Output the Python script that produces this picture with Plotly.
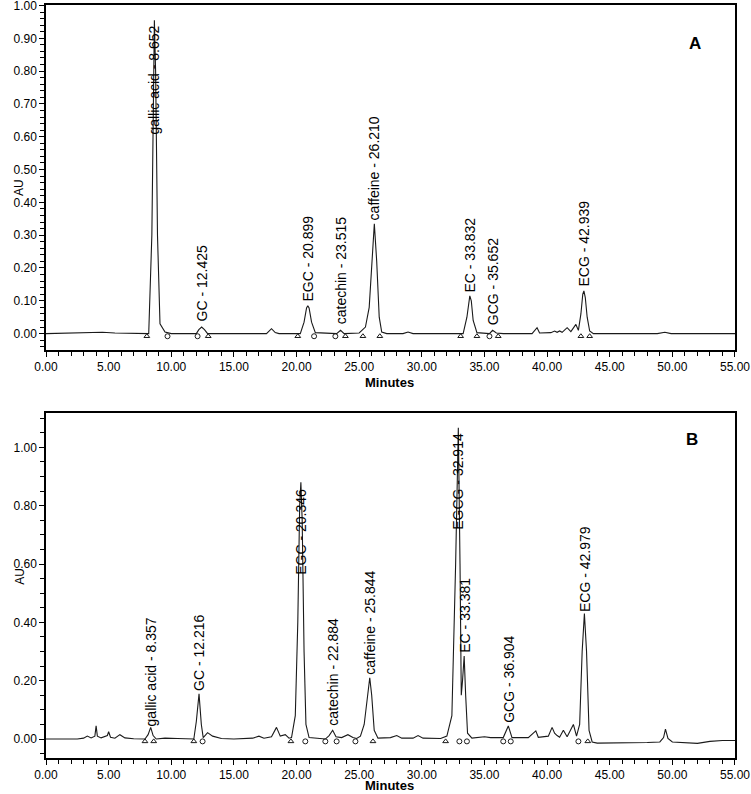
import plotly.graph_objects as go

# ---------------- Panel A : chromatogram trace (minutes, AU) ----------------
a_time = [0.0, 3.5, 4.5, 5.5, 7.8, 8.2, 8.45, 8.58, 8.652, 8.75, 8.9, 9.1, 9.5, 10.0,
          12.0, 12.2, 12.425, 12.65, 12.9, 17.6, 18.0, 18.3, 18.6,
          20.3, 20.6, 20.8, 20.899, 21.0, 21.2, 21.5, 23.2, 23.515, 23.8,
          25.0, 25.5, 25.8, 26.0, 26.21, 26.4, 26.6, 26.8, 27.2, 28.5, 28.9, 29.3,
          31.0, 31.5, 32.0, 33.3, 33.6, 33.75, 33.832, 33.95, 34.1, 34.4, 35.2,
          35.4, 35.652, 35.95, 36.5, 38.8, 39.2, 39.4, 40.3, 40.6, 40.8, 41.0, 41.2,
          41.6, 41.9, 42.3, 42.5, 42.7, 42.85, 42.939, 43.05, 43.2, 43.4, 43.7,
          48.8, 49.4, 49.9, 55.0]
a_au = [0.0, 0.002, 0.004, 0.002, 0.0, 0.0, 0.3, 0.8, 0.955, 0.8, 0.3, 0.03, 0.005, 0.0,
        0.0, 0.012, 0.02, 0.012, 0.0, 0.0, 0.015, 0.003, 0.0,
        0.0, 0.035, 0.078, 0.085, 0.078, 0.035, 0.003, 0.0, 0.01, 0.0,
        0.002, 0.02, 0.08, 0.22, 0.335, 0.22, 0.05, 0.005, 0.0, 0.0, 0.005, 0.0,
        0.0, 0.002, 0.0, 0.0, 0.05, 0.105, 0.115, 0.1, 0.04, 0.003, 0.0,
        0.0, 0.01, 0.002, 0.0, 0.0, 0.018, 0.002, 0.003, 0.008, 0.004, 0.008, 0.004,
        0.018, 0.006, 0.028, 0.01, 0.06, 0.12, 0.13, 0.11, 0.05, 0.008, 0.0,
        0.0, 0.004, 0.0, 0.0]

a_peak_names = ["gallic acid", "GC", "EGC", "catechin", "caffeine", "EC", "GCG", "ECG"]
a_peak_rt = [8.652, 12.425, 20.899, 23.515, 26.210, 33.832, 35.652, 42.939]
a_label_base = [0.60, 0.03, 0.091, 0.021, 0.34, 0.12, 0.02, 0.137]
a_tri_t = [8.05, 12.95, 20.1, 23.9, 25.3, 26.65, 33.1, 34.4, 36.1, 42.7, 43.4]
a_circ_t = [9.7, 12.1, 21.4, 23.1, 35.4]

# ---------------- Panel B : chromatogram trace (minutes, AU) ----------------
b_time = [0.0, 2.5, 3.0, 3.3, 3.6, 3.9, 4.0, 4.1, 4.4, 4.9, 5.0, 5.15, 5.5, 5.9, 6.3, 7.0,
          7.9, 8.15, 8.357, 8.55, 8.8, 9.5, 10.5, 11.8, 12.0, 12.216, 12.4, 12.55, 12.9,
          13.3, 14.0, 15.0, 16.5, 17.0, 17.4, 18.0, 18.4, 18.7, 19.1, 19.4,
          19.6, 19.9, 20.1, 20.25, 20.346, 20.45, 20.6, 20.75, 21.0, 22.3,
          22.6, 22.884, 23.15, 23.6, 24.1, 24.5, 24.8, 25.1,
          25.4, 25.65, 25.844, 26.0, 26.2, 26.5, 27.0, 27.5, 28.0, 28.4, 29.3, 29.7, 30.1,
          31.5, 32.0, 32.4, 32.7, 32.914, 33.05, 33.15, 33.25, 33.381, 33.5, 33.65, 34.0,
          35.0, 35.5, 36.5, 36.904, 37.2, 38.5, 39.1, 39.3, 40.1, 40.4, 40.6, 40.8, 41.0,
          41.3, 41.6, 42.1, 42.35, 42.6, 42.8, 42.979, 43.15, 43.35, 43.6, 44.0, 46.0,
          48.0, 49.0, 49.3, 49.45, 49.65, 50.0, 52.0, 53.0, 54.0, 55.0]
b_au = [0.0, 0.0, 0.003, 0.01, 0.004, 0.01, 0.045, 0.01, 0.004, 0.012, 0.025, 0.006, 0.003, 0.015, 0.004, 0.001,
        0.0, 0.015, 0.04, 0.012, 0.0, 0.003, 0.002, 0.0, 0.06, 0.155, 0.05, 0.005, 0.022,
        0.01, 0.002, 0.0, 0.003, 0.01, 0.003, 0.008, 0.04, 0.01, 0.015, 0.003,
        0.005, 0.08, 0.4, 0.8, 0.88, 0.75, 0.3, 0.05, 0.005, 0.0,
        0.012, 0.03, 0.008, 0.005, 0.015, 0.005, 0.002, 0.01,
        0.05, 0.15, 0.21, 0.15, 0.03, 0.003, 0.004, 0.005, 0.012, 0.003, 0.003, 0.012, 0.003,
        0.002, 0.01, 0.08, 0.6, 1.067, 0.6, 0.15, 0.2, 0.285, 0.15, 0.02, 0.003,
        0.008, 0.005, 0.005, 0.045, 0.005, 0.005, 0.028, 0.006, 0.01, 0.04, 0.02, 0.012, 0.006,
        0.03, 0.008, 0.05, 0.01, 0.05, 0.3, 0.43, 0.3, 0.03, -0.01, -0.014, -0.014,
        -0.012, -0.01, 0.005, 0.034, 0.002, -0.01, -0.015, -0.008, -0.005, -0.005]

b_peak_names = ["gallic acid", "GC", "EGC", "catechin", "caffeine", "EGCG", "EC", "GCG", "ECG"]
b_peak_rt = [8.357, 12.216, 20.346, 22.884, 25.844, 32.914, 33.381, 36.904, 42.979]
b_label_base = [0.037, 0.158, 0.556, 0.038, 0.213, 0.71, 0.288, 0.048, 0.43]
b_tri_t = [7.9, 8.6, 11.8, 19.55, 26.1, 31.9, 43.25]
b_circ_t = [12.5, 20.7, 22.3, 23.2, 24.7, 33.0, 33.6, 36.5, 37.1, 42.5]

A_MARK_Y = -0.008
B_MARK_Y = -0.008

FONT = "Liberation Sans, Arial, sans-serif"
LINE = "#1a1a1a"

fig = go.Figure()

def add_panel(xa, ya, t, au, tri, circ, mark_y):
    fig.add_trace(go.Scatter(x=t, y=au, mode="lines", line=dict(color=LINE, width=1.1),
                             xaxis=xa, yaxis=ya, showlegend=False, hoverinfo="skip"))
    fig.add_trace(go.Scatter(x=tri, y=[mark_y] * len(tri), mode="markers",
                             marker=dict(symbol="triangle-up-open", size=5, color=LINE,
                                         line=dict(width=1, color=LINE)),
                             xaxis=xa, yaxis=ya, showlegend=False, hoverinfo="skip"))
    fig.add_trace(go.Scatter(x=circ, y=[mark_y] * len(circ), mode="markers",
                             marker=dict(symbol="circle-open", size=5, color=LINE,
                                         line=dict(width=1, color=LINE)),
                             xaxis=xa, yaxis=ya, showlegend=False, hoverinfo="skip"))

add_panel("x", "y", a_time, a_au, a_tri_t, a_circ_t, A_MARK_Y)
add_panel("x2", "y2", b_time, b_au, b_tri_t, b_circ_t, B_MARK_Y)

annotations = []
for name, rt, base in zip(a_peak_names, a_peak_rt, a_label_base):
    annotations.append(dict(x=rt, y=base, xref="x", yref="y", text=f"{name} - {rt:.3f}",
                            textangle=-90, xanchor="center", yanchor="bottom", showarrow=False,
                            font=dict(family=FONT, size=14, color="black")))
for name, rt, base in zip(b_peak_names, b_peak_rt, b_label_base):
    annotations.append(dict(x=rt, y=base, xref="x2", yref="y2", text=f"{name} - {rt:.3f}",
                            textangle=-90, xanchor="center", yanchor="bottom", showarrow=False,
                            font=dict(family=FONT, size=14, color="black")))

# panel letters, axis titles
annotations += [
    dict(x=0.9535, y=0.964, xref="paper", yref="paper", text="<b>A</b>", showarrow=False,
         font=dict(family=FONT, size=17, color="black")),
    dict(x=0.949, y=0.4236, xref="paper", yref="paper", text="<b>B</b>", showarrow=False,
         font=dict(family=FONT, size=17, color="black")),
    dict(x=-0.052, y=0.771, xref="paper", yref="paper", text="AU", textangle=-90, showarrow=False,
         font=dict(family=FONT, size=12, color="black")),
    dict(x=-0.052, y=0.227, xref="paper", yref="paper", text="AU", textangle=-90, showarrow=False,
         font=dict(family=FONT, size=12, color="black")),
    dict(x=0.498, y=(758 - 382) / 753, xref="paper", yref="paper", text="<b>Minutes</b>",
         showarrow=False, font=dict(family=FONT, size=13, color="black")),
    dict(x=0.498, y=(758 - 794) / 753, xref="paper", yref="paper", text="<b>Minutes</b>",
         yanchor="bottom", borderpad=0, showarrow=False,
         font=dict(family=FONT, size=13, color="black")),
]

tickfont = dict(family=FONT, size=12, color="black")
common_x = dict(range=[0, 55.001], dtick=5, tick0=0, tickformat=".2f", showline=True, linecolor="black",
                linewidth=1.5, mirror=True, ticks="outside", ticklen=5, tickwidth=1.2, tickcolor="black",
                minor=dict(dtick=1, ticks="outside", ticklen=4, tickwidth=1, tickcolor="black"),
                showgrid=False, zeroline=False, tickfont=tickfont, fixedrange=True, automargin=False,
                ticklabeloverflow="allow")
common_y = dict(tickformat=".2f", showline=True, linecolor="black", linewidth=1.5, mirror=True,
                ticks="outside", ticklen=5, tickwidth=1.2, tickcolor="black", showgrid=False,
                zeroline=False, tickfont=tickfont, fixedrange=True, automargin=False,
                ticklabeloverflow="allow")

fig.update_layout(
    width=751, height=794,
    margin=dict(l=46, r=16, t=5, b=36),
    paper_bgcolor="white", plot_bgcolor="white",
    font=dict(family=FONT, color="black"),
    xaxis=dict(anchor="y", domain=[0, 1], **common_x),
    yaxis=dict(anchor="x", domain=[0.5418, 1], range=[-0.05, 1.0015], dtick=0.1, tick0=0,
               minor=dict(dtick=0.02, tick0=0, ticks="outside", ticklen=4, tickwidth=1, tickcolor="black"),
               **common_y),
    xaxis2=dict(anchor="y2", domain=[0, 1], **common_x),
    yaxis2=dict(anchor="x2", domain=[0, 0.4582], range=[-0.065, 1.118], dtick=0.2, tick0=0,
                minor=dict(dtick=0.05, tick0=0, ticks="outside", ticklen=4, tickwidth=1, tickcolor="black"),
                **common_y),
    annotations=annotations,
    showlegend=False,
)

fig.write_html("out.html", config={"displayModeBar": False},
               post_script="document.body.style.margin='0px';")
